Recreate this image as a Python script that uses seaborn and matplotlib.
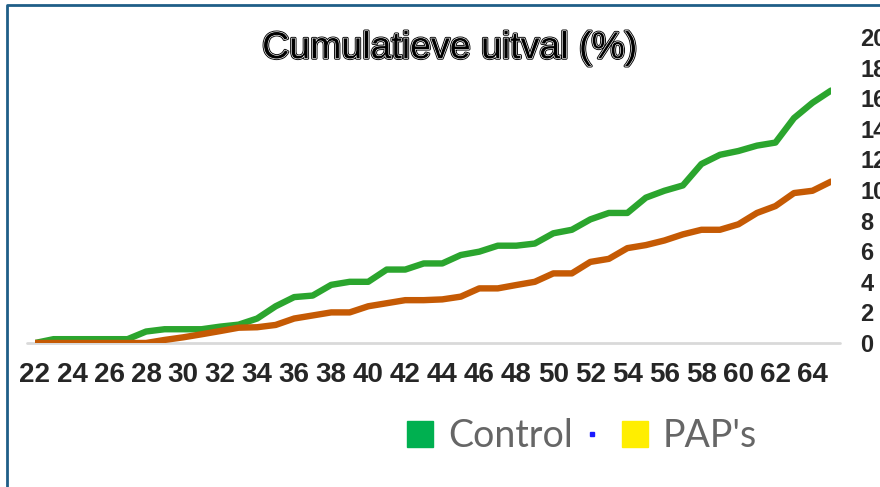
#Cumulatieve uitval per leeftijd
import pandas as pd
import seaborn as sns
import matplotlib.pyplot as plt
import matplotlib.patheffects as pe
from matplotlib.lines import Line2D
from matplotlib.patches import Patch

ages = list(range(22, 66))
control = [0, 0.25, 0.25, 0.25, 0.25, 0.25, 0.75, 0.9, 0.9, 0.9,
           1.07, 1.2, 1.6, 2.4, 3.0, 3.1, 3.8, 4.0, 4.0, 4.8,
           4.8, 5.2, 5.2, 5.75, 5.97, 6.36, 6.36, 6.5, 7.17, 7.4,
           8.08, 8.5, 8.5, 9.5, 9.95, 10.3, 11.7, 12.3, 12.55, 12.9,
           13.1, 14.7, 15.7, 16.5]
paps = [0, 0, 0, 0, 0, 0, 0, 0.2, 0.37, 0.57,
        0.78, 1.0, 1.03, 1.18, 1.6, 1.8, 2.0, 2.0, 2.4, 2.6,
        2.8, 2.8, 2.85, 3.03, 3.57, 3.57, 3.79, 4.0, 4.55, 4.55,
        5.3, 5.5, 6.2, 6.4, 6.7, 7.1, 7.4, 7.4, 7.76, 8.5,
        8.95, 9.8, 9.95, 10.55]
x_ticks = list(range(22, 65, 2))
y_ticks = list(range(0, 21, 2))

df = pd.DataFrame({"Leeftijd": ages * 2,
                   "Uitval": control + paps,
                   "Groep": ["Control"] * len(ages) + ["PAP's"] * len(ages)})

sns.set_style("white")
plt.rcParams["font.family"] = ["Liberation Sans", "DejaVu Sans"]

fig = plt.figure(figsize=(8.8, 4.87), dpi=100)
ax = fig.add_axes([35 / 880, 144 / 487, 796 / 880, 306 / 487])

ax.axhline(0, xmin=-0.01, xmax=1.011, color="#d9d9d9", lw=2, zorder=1, clip_on=False)
sns.lineplot(data=df, x="Leeftijd", y="Uitval", hue="Groep",
             palette={"Control": "#2ba52e", "PAP's": "#c55a04"},
             lw=4.6, legend=False, ax=ax, zorder=3,
             solid_capstyle="round", solid_joinstyle="round")

ax.set_xlim(22, 65)
ax.set_ylim(0, 20)
ax.set_xticks(x_ticks)
ax.set_yticks(y_ticks)
ax.set_xlabel("")
ax.set_ylabel("")
ax.yaxis.tick_right()
for s in ax.spines.values():
    s.set_visible(False)
ax.tick_params(axis="both", length=0)
ax.tick_params(axis="x", pad=14)
ax.tick_params(axis="y", pad=21)
for t in ax.get_xticklabels():
    t.set_fontsize(20)
    t.set_fontweight("bold")
for t in ax.get_yticklabels():
    t.set_fontsize(17)
    t.set_fontweight("bold")
    t.set_horizontalalignment("left")

fig.text(0.511, 0.901, "Cumulatieve uitval (%)", ha="center", va="center",
         fontsize=27, color="black",
         path_effects=[pe.Stroke(linewidth=2.2, foreground="black"),
                       pe.Stroke(linewidth=0.9, foreground="white"),
                       pe.Normal()])

# legende
handles = [Patch(color="#00b050"), Patch(color="#ffee00")]
fig.legend(handles, ["Control", "PAP's"], loc="center",
           bbox_to_anchor=(582 / 880, 0.105), ncol=2, frameon=False,
           prop={"family": "Lato", "size": 27}, labelcolor="#666666",
           handlelength=0.7, handleheight=0.7, handletextpad=0.4,
           columnspacing=1.3)
fig.add_artist(Line2D([592 / 880], [(487 - 434) / 487], marker="s", ms=3,
                      color="#1a1aff", ls="none"))

# rand
fig.add_artist(Line2D([7 / 880, 7 / 880, 1.01], [-0.01, 482 / 487, 482 / 487],
                      color="#1f5e87", lw=2))

plt.savefig("out.png", dpi=100)
